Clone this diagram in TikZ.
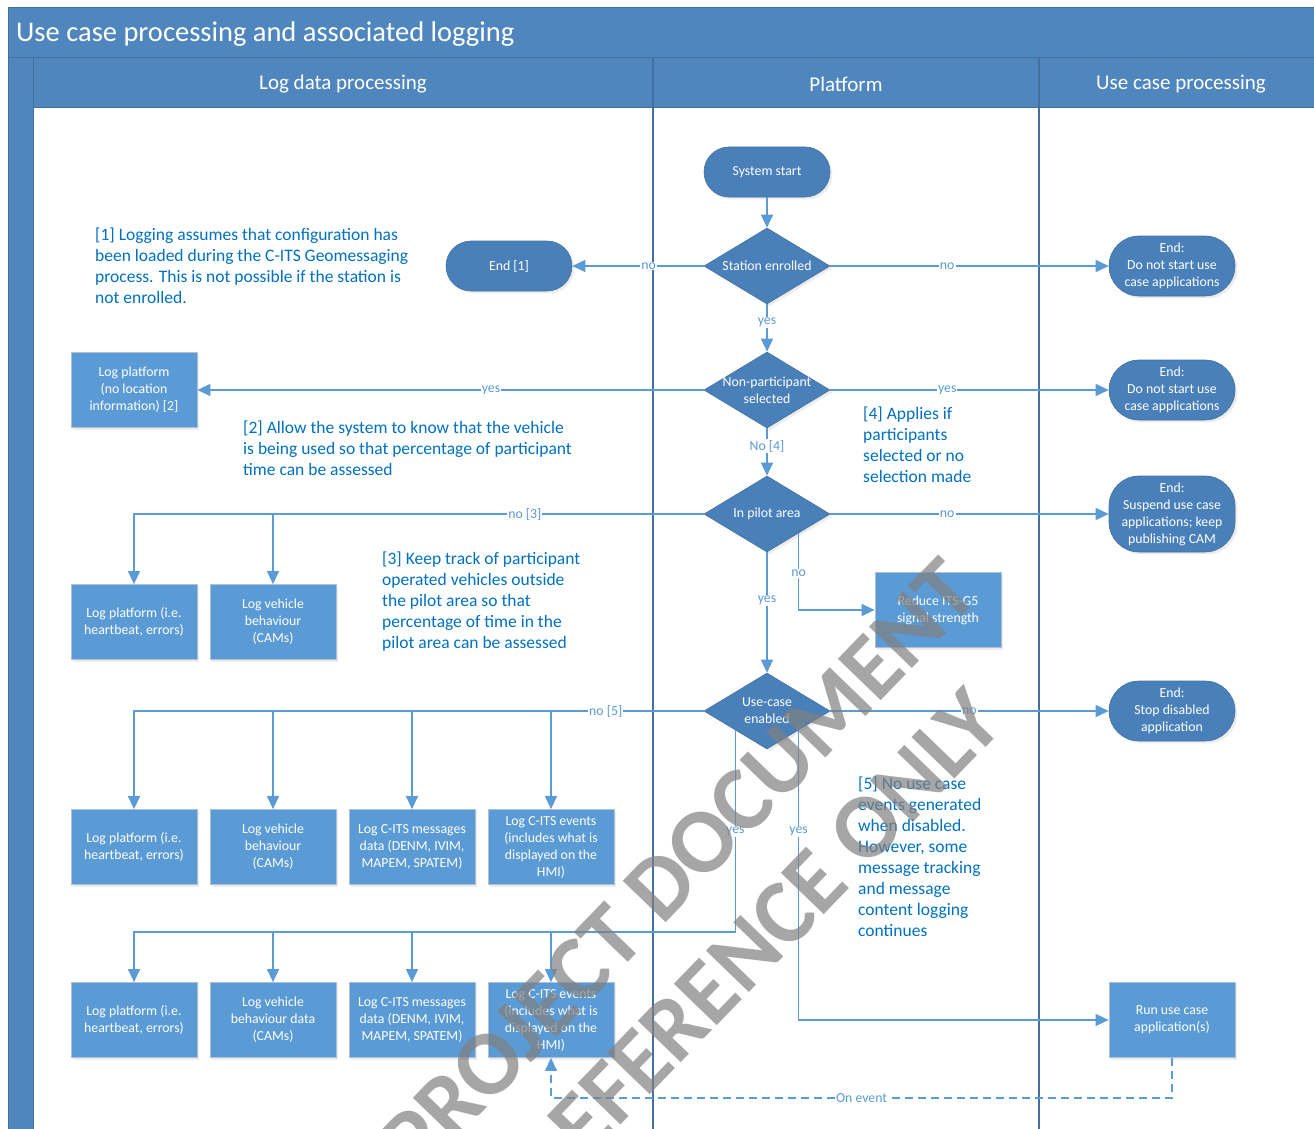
\documentclass[tikz,border=0pt]{standalone}
\usepackage{fontspec}
\setmainfont{Carlito}
\usetikzlibrary{arrows.meta,shapes.geometric,shadows}
\definecolor{bandblue}{RGB}{79,134,190}
\definecolor{bandline}{RGB}{65,113,160}
\definecolor{termblue}{RGB}{74,128,186}
\definecolor{boxblue}{RGB}{91,155,213}
\definecolor{boxline}{RGB}{175,192,214}
\definecolor{linecol}{RGB}{91,155,213}
\definecolor{notecol}{RGB}{0,112,192}
\newcommand{\boxfont}{\fontsize{13.8}{17}\selectfont}
\newcommand{\notefont}{\fontsize{17.5}{21}\selectfont}

\begin{document}
\begin{tikzpicture}[x=1pt,y=-1pt,
	term/.style={rectangle, rounded corners=25pt, draw=bandline, line width=0.6pt, fill=termblue, text=white, font=\boxfont, align=center, minimum width=126pt, minimum height=50pt, inner sep=1pt, drop shadow={opacity=0.15}},
	endterm/.style={term, rounded corners=30pt, minimum height=60pt},
	decision/.style={diamond, draw=bandline, line width=0.6pt, fill=termblue, minimum width=126pt, minimum height=76pt, inner sep=0pt, drop shadow={opacity=0.15}},
	dtext/.style={text=white, font=\boxfont, align=center, inner sep=0pt},
	logbox/.style={rectangle, draw=boxline, line width=0.8pt, fill=boxblue, text=white, font=\boxfont, align=center, minimum width=126pt, minimum height=75pt, inner sep=1pt, drop shadow={opacity=0.15}},
	flow/.style={draw=linecol, line width=1.3pt, -{Triangle[width=12pt,length=13pt]}},
	elabel/.style={fill=white, inner sep=1pt, text=linecol, font=\boxfont},
	note/.style={anchor=north west, align=left, text=notecol, font=\notefont, inner sep=0pt},
	header/.style={text=white, font=\fontsize{21}{25}\selectfont}]
\useasboundingbox (0,0) rectangle (1314,1129);

% swimlane frame
\fill[bandblue] (8,8) rectangle (1314,58);
\fill[bandblue] (8,58) rectangle (33,1129);
\fill[bandblue] (33,58) rectangle (1314,108);
\draw[bandline, line width=1pt] (8,1129) -- (8,8) -- (1314,8);
\draw[bandline, line width=1pt] (8,58) -- (1314,58);
\draw[bandline, line width=1pt] (33,108) -- (1314,108);
\draw[bandline, line width=1pt] (33,58) -- (33,1129);
\draw[bandline, line width=1.2pt] (653,58) -- (653,1129);
\draw[bandline, line width=1.2pt] (1039,58) -- (1039,1129);
\node[anchor=west, inner sep=0pt, text=white, font=\fontsize{28.5}{32}\selectfont] (title) at (16,34) {Use case processing and associated logging};
\node[header] (hlog) at (343,84) {Log data processing};
\node[header] (hplat) at (846,84) {Platform};
\node[header] (huse) at (1181,84) {Use case processing};

% platform decisions
\node[term] (start) at (767,172) {System start};
\node[decision, label={[dtext]center:Station enrolled}] (station) at (767,266) {};
\node[decision, label={[dtext]center:Non-participant\\selected}] (nonpart) at (767,390) {};
\node[decision, label={[dtext]center:In pilot area}] (pilot) at (767,514) {};
\node[decision, label={[dtext]center:Use-case\\enabled}] (usecase) at (767,711) {};
\node[logbox] (reduce) at (938,610) {Reduce ITS-G5\\signal strength};

% end points
\node[term] (end1) at (509,266) {End [1]};
\node[endterm] (endA) at (1172,266) {End:\\Do not start use\\case applications};
\node[endterm] (endB) at (1172,390) {End:\\Do not start use\\case applications};
\node[endterm, minimum height=76pt] (endC) at (1172,514) {End:\\Suspend use case\\applications; keep\\publishing CAM};
\node[endterm] (endD) at (1172,711) {End:\\Stop disabled\\application};
\node[logbox] (run) at (1172,1020) {Run use case\\application(s)};

% logging
\node[logbox] (lognoloc) at (134,390) {Log platform\\(no location\\information) [2]};
\node[logbox] (r1a) at (134,622) {Log platform (i.e.\\heartbeat, errors)};
\node[logbox] (r1b) at (273,622) {Log vehicle\\behaviour\\(CAMs)};
\node[logbox] (r2a) at (134,847) {Log platform (i.e.\\heartbeat, errors)};
\node[logbox] (r2b) at (273,847) {Log vehicle\\behaviour\\(CAMs)};
\node[logbox] (r2c) at (412,847) {Log C-ITS messages\\data (DENM, IVIM,\\MAPEM, SPATEM)};
\node[logbox] (r2d) at (551,847) {Log C-ITS events\\(includes what is\\displayed on the\\HMI)};
\node[logbox] (r3a) at (134,1020) {Log platform (i.e.\\heartbeat, errors)};
\node[logbox] (r3b) at (273,1020) {Log vehicle\\behaviour data\\(CAMs)};
\node[logbox] (r3c) at (412,1020) {Log C-ITS messages\\data (DENM, IVIM,\\MAPEM, SPATEM)};
\node[logbox] (r3d) at (551,1020) {Log C-ITS events\\(includes what is\\displayed on the\\HMI)};

% notes
\node[note] (note1) at (95,228) {[1] Logging assumes that configuration has\\been loaded during the C-ITS Geomessaging\\process. This is not possible if the station is\\not enrolled.};
\node[note] (note2) at (243,421) {[2] Allow the system to know that the vehicle\\is being used so that percentage of participant\\time can be assessed};
\node[note] (note3) at (382,552) {[3] Keep track of participant\\operated vehicles outside\\the pilot area so that\\percentage of time in the\\pilot area can be assessed};
\node[note] (note4) at (863,407) {[4] Applies if\\participants\\selected or no\\selection made};
\node[note] (note5) at (858,777) {[5] No use case\\events generated\\when disabled.\\However, some\\message tracking\\and message\\content logging\\continues};

% connectors
\coordinate (yesbus) at (0,932);
\coordinate (evbus) at (0,1098);
\draw[flow] (start) -- (station);
\draw[flow] (station.west) -- node[elabel, pos=0.42] {no} (end1.east);
\draw[flow] (station.east) -- node[elabel, pos=0.42] {no} (endA.west);
\draw[flow] (station.south) -- node[elabel, pos=0.38] {yes} (nonpart.north);
\draw[flow] (nonpart.west) -- node[elabel, pos=0.42] {yes} (lognoloc.east);
\draw[flow] (nonpart.east) -- node[elabel, pos=0.42] {yes} (endB.west);
\draw[flow] (nonpart.south) -- node[elabel, pos=0.38] {No [4]} (pilot.north);
\draw[flow] (pilot.east) -- node[elabel, pos=0.42] {no} (endC.west);
\draw[flow] (pilot.west) -| node[elabel, pos=0.157] {no [3]} (r1a.north);
\draw[flow] (r1b.north |- pilot.west) -- (r1b.north);
\draw[flow] (pilot.south east) |- node[elabel, pos=0.26] {no} (reduce.west);
\draw[flow] (pilot.south) -- node[elabel, pos=0.40] {yes} (usecase.north);
\draw[flow] (usecase.east) -- node[elabel, pos=0.5] {no} (endD.west);
\draw[flow] (usecase.west) -| node[elabel, pos=0.086] {no [5]} (r2a.north);
\draw[flow] (r2b.north |- usecase.west) -- (r2b.north);
\draw[flow] (r2c.north |- usecase.west) -- (r2c.north);
\draw[flow] (r2d.north |- usecase.west) -- (r2d.north);
\draw[flow] (usecase.south west) -- node[elabel] {yes} (usecase.south west |- yesbus) -| (r3a.north);
\draw[flow] (r3b.north |- yesbus) -- (r3b.north);
\draw[flow] (r3c.north |- yesbus) -- (r3c.north);
\draw[flow] (r3d.north |- yesbus) -- (r3d.north);
\draw[flow] (usecase.south east) |- node[elabel, pos=0.175] {yes} (run.west);
\draw[flow, dash pattern=on 8pt off 5pt] (run.south) -- (run.south |- evbus) -- node[elabel] {On event} (r3d.south |- evbus) -- (r3d.south);

% watermark
\node[rotate=46, text=gray, opacity=0.7, font=\bfseries\fontsize{92}{108}\selectfont, align=center] (stamp) at (718,904) {PROJECT DOCUMENT\\REFERENCE ONLY};
\end{tikzpicture}
\end{document}
